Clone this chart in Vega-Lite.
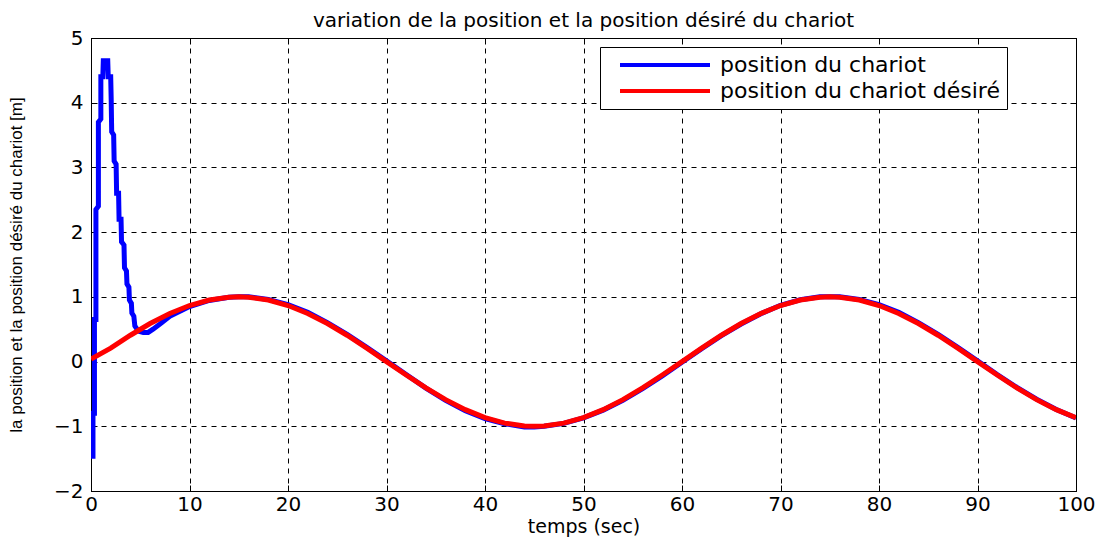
{
  "$schema": "https://vega.github.io/schema/vega-lite/v6.json",
  "autosize": "none",
  "padding": {"left": 91, "top": 38, "right": 27, "bottom": 47},
  "width": 985,
  "height": 453,
  "background": "white",
  "config": {
    "font": "DejaVu Sans",
    "view": {"stroke": "black", "strokeWidth": 1},
    "axis": {
      "domainColor": "black",
      "tickColor": "black",
      "labelColor": "black",
      "titleColor": "black",
      "labelFont": "DejaVu Sans",
      "titleFont": "DejaVu Sans",
      "labelFontSize": 20,
      "titleFontSize": 19,
      "titleFontWeight": "normal",
      "tickSize": -6,
      "gridColor": "black",
      "gridOpacity": 1,
      "gridDash": [5, 5],
      "gridWidth": 1
    }
  },
  "title": {
    "text": "variation de la position et la position désiré du chariot",
    "fontSize": 20,
    "fontWeight": "normal",
    "font": "DejaVu Sans",
    "color": "black",
    "offset": -3
  },
  "datasets": {
    "blue": [
      {"t": 0.2, "v": -1.5}, {"t": 0.2, "v": -0.8}, {"t": 0.35, "v": -0.8}, {"t": 0.35, "v": 0.65},
      {"t": 0.5, "v": 0.65}, {"t": 0.5, "v": 2.35}, {"t": 0.75, "v": 2.4}, {"t": 0.75, "v": 3.7},
      {"t": 1.0, "v": 3.75}, {"t": 1.0, "v": 4.4}, {"t": 1.2, "v": 4.4}, {"t": 1.25, "v": 4.65},
      {"t": 1.7, "v": 4.65}, {"t": 1.75, "v": 4.4}, {"t": 2.0, "v": 4.4}, {"t": 2.05, "v": 4.05},
      {"t": 2.1, "v": 3.55}, {"t": 2.3, "v": 3.5}, {"t": 2.35, "v": 3.1}, {"t": 2.55, "v": 3.05},
      {"t": 2.6, "v": 2.6}, {"t": 2.8, "v": 2.6}, {"t": 2.85, "v": 2.2}, {"t": 3.05, "v": 2.2},
      {"t": 3.1, "v": 1.85}, {"t": 3.35, "v": 1.8}, {"t": 3.4, "v": 1.45}, {"t": 3.6, "v": 1.4},
      {"t": 3.65, "v": 1.2}, {"t": 3.85, "v": 1.15}, {"t": 3.9, "v": 0.95}, {"t": 4.1, "v": 0.9},
      {"t": 4.15, "v": 0.75}, {"t": 4.35, "v": 0.7}, {"t": 4.45, "v": 0.55}, {"t": 4.8, "v": 0.47},
      {"t": 5.3, "v": 0.45}, {"t": 5.8, "v": 0.45}, {"t": 6.3, "v": 0.5}, {"t": 7, "v": 0.58},
      {"t": 8, "v": 0.7}, {"t": 10, "v": 0.85}, {"t": 12, "v": 0.945}, {"t": 14, "v": 0.995},
      {"t": 15, "v": 1.0}, {"t": 16, "v": 1.0}, {"t": 18, "v": 0.96}, {"t": 20, "v": 0.88},
      {"t": 22, "v": 0.76}, {"t": 24, "v": 0.6}, {"t": 26, "v": 0.42}, {"t": 28, "v": 0.22},
      {"t": 30, "v": 0.01}, {"t": 32, "v": -0.2}, {"t": 34, "v": -0.41}, {"t": 36, "v": -0.6},
      {"t": 38, "v": -0.76}, {"t": 40, "v": -0.88}, {"t": 42, "v": -0.96}, {"t": 44, "v": -1.01},
      {"t": 45, "v": -1.01}, {"t": 46, "v": -1.0}, {"t": 48, "v": -0.955}, {"t": 50, "v": -0.87},
      {"t": 52, "v": -0.75}, {"t": 54, "v": -0.6}, {"t": 56, "v": -0.42}, {"t": 58, "v": -0.22},
      {"t": 60, "v": -0.01}, {"t": 62, "v": 0.2}, {"t": 64, "v": 0.4}, {"t": 66, "v": 0.58},
      {"t": 68, "v": 0.74}, {"t": 70, "v": 0.87}, {"t": 72, "v": 0.955}, {"t": 74, "v": 1.0},
      {"t": 75, "v": 1.0}, {"t": 76, "v": 1.0}, {"t": 78, "v": 0.96}, {"t": 80, "v": 0.88},
      {"t": 82, "v": 0.76}, {"t": 84, "v": 0.6}, {"t": 86, "v": 0.42}, {"t": 88, "v": 0.22},
      {"t": 90, "v": 0.01}, {"t": 92, "v": -0.2}, {"t": 94, "v": -0.4}, {"t": 96, "v": -0.58},
      {"t": 98, "v": -0.74}, {"t": 100, "v": -0.87}
    ],
    "red": [
      {"t": 0, "v": 0.04}, {"t": 2, "v": 0.208}, {"t": 4, "v": 0.407}, {"t": 6, "v": 0.588},
      {"t": 8, "v": 0.743}, {"t": 10, "v": 0.866}, {"t": 12, "v": 0.951}, {"t": 14, "v": 0.995},
      {"t": 15, "v": 1.0}, {"t": 16, "v": 0.995}, {"t": 18, "v": 0.951}, {"t": 20, "v": 0.866},
      {"t": 22, "v": 0.743}, {"t": 24, "v": 0.588}, {"t": 26, "v": 0.407}, {"t": 28, "v": 0.208},
      {"t": 30, "v": 0.0}, {"t": 32, "v": -0.208}, {"t": 34, "v": -0.407}, {"t": 36, "v": -0.588},
      {"t": 38, "v": -0.743}, {"t": 40, "v": -0.866}, {"t": 42, "v": -0.951}, {"t": 44, "v": -0.995},
      {"t": 45, "v": -1.0}, {"t": 46, "v": -0.995}, {"t": 48, "v": -0.951}, {"t": 50, "v": -0.866},
      {"t": 52, "v": -0.743}, {"t": 54, "v": -0.588}, {"t": 56, "v": -0.407}, {"t": 58, "v": -0.208},
      {"t": 60, "v": 0.0}, {"t": 62, "v": 0.208}, {"t": 64, "v": 0.407}, {"t": 66, "v": 0.588},
      {"t": 68, "v": 0.743}, {"t": 70, "v": 0.866}, {"t": 72, "v": 0.951}, {"t": 74, "v": 0.995},
      {"t": 75, "v": 1.0}, {"t": 76, "v": 0.995}, {"t": 78, "v": 0.951}, {"t": 80, "v": 0.866},
      {"t": 82, "v": 0.743}, {"t": 84, "v": 0.588}, {"t": 86, "v": 0.407}, {"t": 88, "v": 0.208},
      {"t": 90, "v": 0.0}, {"t": 92, "v": -0.208}, {"t": 94, "v": -0.407}, {"t": 96, "v": -0.588},
      {"t": 98, "v": -0.743}, {"t": 100, "v": -0.866}
    ]
  },
  "layer": [
    {
      "data": {"name": "blue"},
      "transform": [{"calculate": "'position du chariot'", "as": "s"}],
      "mark": {"type": "line", "strokeWidth": 5, "clip": true},
      "encoding": {
        "x": {
          "field": "t", "type": "quantitative",
          "scale": {"domain": [0, 100], "nice": false, "zero": false},
          "axis": {"title": "temps (sec)", "values": [0,10,20,30,40,50,60,70,80,90,100], "grid": true, "labelPadding": 9, "titlePadding": 3, "labelFlush": false}
        },
        "y": {
          "field": "v", "type": "quantitative",
          "scale": {"domain": [-2, 5], "nice": false, "zero": false},
          "axis": {"title": "la position et la position désiré du chariot [m]", "titleFont": "Liberation Sans", "titleFontSize": 17, "values": [-2,-1,0,1,2,3,4,5], "grid": true, "labelPadding": 14, "titlePadding": 28, "labelFlush": false}
        },
        "color": {
          "field": "s", "type": "nominal",
          "scale": {"domain": ["position du chariot", "position du chariot désiré"], "range": ["#0000FF", "#FF0000"]},
          "legend": {
            "title": null,
            "orient": "none",
            "legendX": 509,
            "legendY": 9,
            "symbolType": "M-5,0H5",
            "symbolSize": 324,
            "symbolStrokeWidth": 4,
            "symbolOffset": 47,
            "labelOffset": 44,
            "labelLimit": 500,
            "labelFontSize": 22,
            "labelFont": "DejaVu Sans",
            "labelColor": "black",
            "strokeColor": "black",
            "fillColor": "white",
            "padding": 7,
            "rowPadding": 4
          }
        },
        "order": {"field": "t", "type": "quantitative"}
      }
    },
    {
      "data": {"name": "red"},
      "transform": [{"calculate": "'position du chariot désiré'", "as": "s"}],
      "mark": {"type": "line", "strokeWidth": 5, "clip": true},
      "encoding": {
        "x": {"field": "t", "type": "quantitative", "axis": null},
        "y": {"field": "v", "type": "quantitative", "axis": null},
        "color": {"field": "s", "type": "nominal"}
      }
    },
    {
      "data": {"name": "red"},
      "mark": {"type": "line", "opacity": 0},
      "encoding": {
        "x": {"field": "t", "type": "quantitative", "axis": {"orient": "top", "labels": false, "title": null, "grid": false, "domain": false, "values": [0,10,20,30,40,50,60,70,80,90,100]}},
        "y": {"field": "v", "type": "quantitative", "axis": {"orient": "right", "labels": false, "title": null, "grid": false, "domain": false, "values": [-2,-1,0,1,2,3,4,5]}}
      }
    }
  ],
  "resolve": {"axis": {"x": "independent", "y": "independent"}}
}
